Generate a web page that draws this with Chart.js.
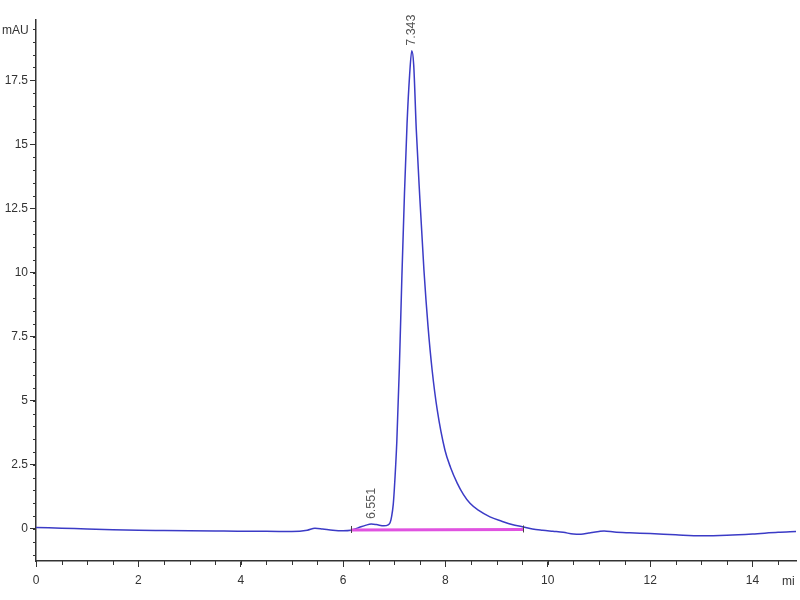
<!DOCTYPE html>
<html>
<head>
<meta charset="utf-8">
<script src="https://cdn.jsdelivr.net/npm/chart.js@4"></script>
<style>
  html, body { margin: 0; padding: 0; background: #fff; }
  #wrap { width: 800px; height: 600px; }
</style>
</head>
<body>
<div id="wrap"><canvas id="chart" width="800" height="600"></canvas></div>
<script>
// chromatogram trace, retention time (min) vs absorbance (mAU)
const timeMin = [0, 0.5, 1.0, 1.5, 2.0, 2.5, 3.0, 3.5, 4.0, 4.5, 5.0, 5.3, 5.45, 5.6, 5.8, 6.0,
  6.15, 6.3, 6.45, 6.55, 6.65, 6.8, 6.88, 6.92, 6.95, 6.98, 7.0, 7.05, 7.1, 7.15, 7.2, 7.25, 7.3,
  7.343, 7.38, 7.43, 7.5, 7.58, 7.66, 7.74, 7.84, 7.99, 8.1, 8.23, 8.35, 8.48, 8.65, 8.87, 9.1,
  9.3, 9.52, 9.7, 9.9, 10.1, 10.3, 10.5, 10.65, 10.8, 11.0, 11.1, 11.3, 11.6, 12.0, 12.5, 13.0,
  13.5, 14.0, 14.5, 14.85]
const absorbance = [0.06, 0.03, 0.0, -0.03, -0.05, -0.06, -0.07, -0.08, -0.09, -0.09, -0.1, -0.05, 0.03, 0.0, -0.05, -0.07,
  -0.05, 0.05, 0.15, 0.19, 0.17, 0.12, 0.16, 0.25, 0.5, 0.95, 1.5, 3.4, 6.3, 9.9, 13.1, 15.8, 17.7,
  18.65, 18.1, 15.6, 12.9, 10.1, 7.9, 6.2, 4.64, 3.08, 2.4, 1.79, 1.35, 1.0, 0.72, 0.47, 0.3,
  0.17, 0.08, 0.0, -0.05, -0.09, -0.13, -0.2, -0.21, -0.16, -0.1, -0.08, -0.12, -0.15, -0.18, -0.23, -0.27,
  -0.25, -0.2, -0.13, -0.1]

// integrated peaks
const peakTimes = [6.551, 7.343]
const peakHeights = [0.19, 18.65]
const peakLabels = ['6.551', '7.343']

// integration baseline
const baseTimes = [6.15, 9.52]
const baseValues = [-0.04, -0.02]

// axis ticks
const xTicks = [0, 2, 4, 6, 8, 10, 12, 14]
const yTicks = [0, 2.5, 5, 7.5, 10, 12.5, 15, 17.5]

const FONT = "'Liberation Sans', Arial, sans-serif"
const INK = '#333'

function pts(xs, ys) {
    return xs.map((x, i) => ({ x: x, y: ys[i] }))
}

// short minor ticks every 0.5, peak labels, unit labels
const extras = {
    id: 'extras',
    afterDraw(chart) {
        const ctx = chart.ctx
        const xs = chart.scales.x
        const ys = chart.scales.y
        const area = chart.chartArea
        ctx.save()
        ctx.strokeStyle = INK
        ctx.lineWidth = 1
        for (let v = 0; v <= xs.max + 1e-9; v += 0.5) {
            const px = Math.round(xs.getPixelForValue(v)) + 0.5
            ctx.beginPath()
            ctx.moveTo(px, area.bottom)
            ctx.lineTo(px, area.bottom + 4)
            ctx.stroke()
        }
        for (let v = -1; v <= ys.max + 1e-9; v += 0.5) {
            const py = Math.round(ys.getPixelForValue(v)) + 0.5
            ctx.beginPath()
            ctx.moveTo(area.left, py)
            ctx.lineTo(area.left - 3, py)
            ctx.stroke()
        }

        // integration start/end marks
        ctx.strokeStyle = '#444'
        baseTimes.forEach((t, i) => {
            const px = Math.round(xs.getPixelForValue(t)) + 0.5
            const py = ys.getPixelForValue(baseValues[i])
            ctx.beginPath()
            ctx.moveTo(px, py - 4)
            ctx.lineTo(px, py + 3)
            ctx.stroke()
        })

        // peak retention time labels, rotated
        ctx.fillStyle = '#555'
        ctx.font = '12.5px ' + FONT
        ctx.textAlign = 'left'
        ctx.textBaseline = 'middle'
        peakTimes.forEach((t, i) => {
            const px = xs.getPixelForValue(t)
            const py = ys.getPixelForValue(peakHeights[i]) - 5
            ctx.save()
            ctx.translate(px, py)
            ctx.rotate(-Math.PI / 2)
            ctx.fillText(peakLabels[i], 0, 0)
            ctx.restore()
        })

        ctx.fillStyle = INK
        ctx.font = '12px ' + FONT
        ctx.textBaseline = 'middle'
        ctx.textAlign = 'left'
        ctx.fillText('mAU', 2, 31)
        ctx.fillText('mi', 782, 582)
        ctx.restore()
    }
}

const ctx = document.getElementById('chart').getContext('2d')
const chart = new Chart(ctx, {
    type: 'line',
    data: {
        datasets: [{
            data: pts(baseTimes, baseValues),
            borderColor: '#e052e0',
            borderWidth: 3,
            pointRadius: 0,
            order: 0
        }, {
            data: pts(timeMin, absorbance),
            borderColor: '#3b3bc6',
            borderWidth: 1.5,
            pointRadius: 0,
            cubicInterpolationMode: 'monotone',
            order: 1
        }]
    },
    options: {
        responsive: false,
        animation: false,
        events: [],
        layout: { padding: { top: 20, right: 4, left: 0, bottom: 0 } },
        plugins: {
            legend: { display: false },
            tooltip: { enabled: false }
        },
        scales: {
            x: {
                type: 'linear',
                min: 0,
                max: 14.85,
                afterBuildTicks: s => { s.ticks = xTicks.map(v => ({ value: v })) },
                afterFit: s => { s.height = 39 },
                grid: { drawOnChartArea: false, drawTicks: true, tickLength: 6, color: INK },
                border: { display: true, color: INK, width: 1.5 },
                ticks: {
                    autoSkip: false,
                    maxRotation: 0,
                    padding: 6,
                    color: INK,
                    font: { family: FONT, size: 12 },
                    callback: v => String(v)
                }
            },
            y: {
                type: 'linear',
                min: -1.25,
                max: 19.85,
                afterBuildTicks: s => { s.ticks = yTicks.map(v => ({ value: v })) },
                afterFit: s => { s.width = 36 },
                grid: { drawOnChartArea: false, drawTicks: true, tickLength: 6, color: INK },
                border: { display: true, color: INK, width: 1.5 },
                ticks: {
                    autoSkip: false,
                    padding: 2,
                    color: INK,
                    font: { family: FONT, size: 12 },
                    callback: v => String(v)
                }
            }
        }
    },
    plugins: [extras]
})
</script>
</body>
</html>
